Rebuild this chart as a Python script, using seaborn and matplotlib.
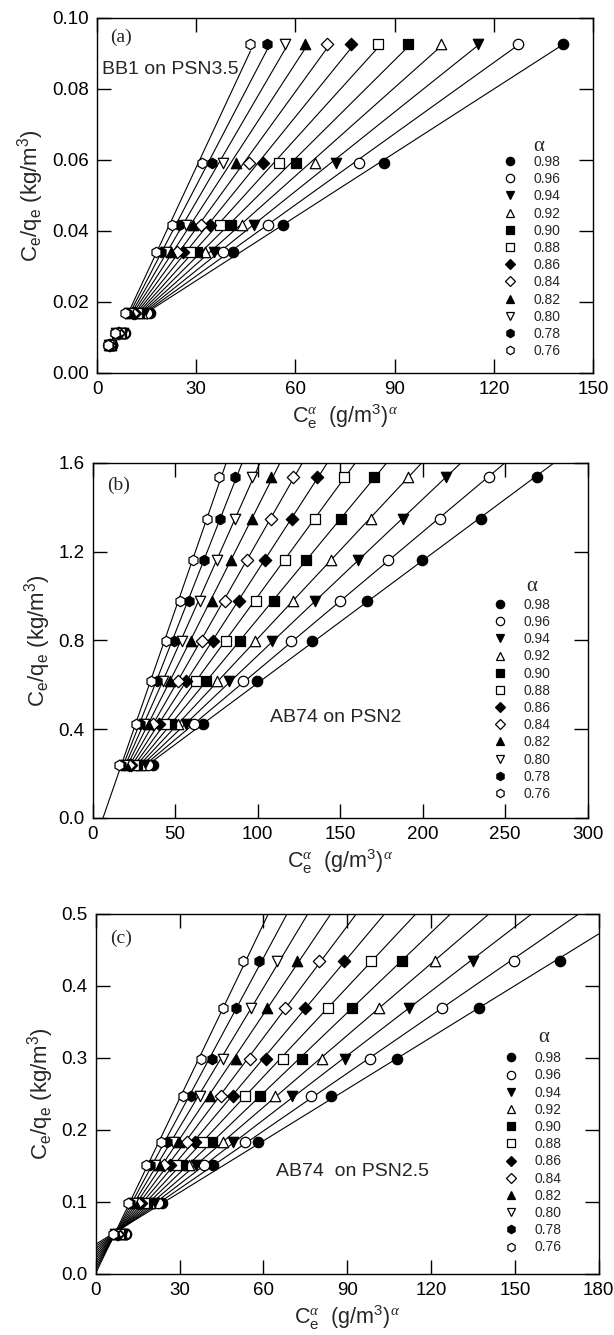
import numpy as np
import pandas as pd
import matplotlib
matplotlib.use("Agg")
import matplotlib.pyplot as plt
import seaborn as sns
from matplotlib.lines import Line2D

# Exponents of the linearised isotherm, one series each
alphas = [0.98, 0.96, 0.94, 0.92, 0.90, 0.88, 0.86, 0.84, 0.82, 0.80, 0.78, 0.76]
alpha_labels = ["0.98", "0.96", "0.94", "0.92", "0.90", "0.88",
                "0.86", "0.84", "0.82", "0.80", "0.78", "0.76"]
symbols = ["o", "o", "v", "^", "s", "s", "D", "D", "^", "v", "h", "h"]
solid = [True, False, True, False, True, False, True, False, True, False, True, False]

# Equilibrium concentration C_e (g/m3) and C_e/q_e (kg/m3)
ce_a = [4.8, 9.0, 17.0, 44.3, 60.9, 95.1, 155.8]
ratio_a = [0.0078, 0.0113, 0.0169, 0.0341, 0.0416, 0.0592, 0.0927]

ce_b = [39.0, 73.0, 109.6, 146.9, 184.7, 222.5, 263.0, 302.0]
ratio_b = [0.240, 0.424, 0.619, 0.798, 0.979, 1.160, 1.349, 1.537]

ce_c = [11.34, 25.2, 45.1, 63.2, 92.2, 118.8, 151.6, 184.5]
ratio_c = [0.0554, 0.0983, 0.1505, 0.1828, 0.2475, 0.2982, 0.3693, 0.4344]

xticks_a = [0, 30, 60, 90, 120, 150]
yticks_a = [0.00, 0.02, 0.04, 0.06, 0.08, 0.10]
xticks_b = [0, 50, 100, 150, 200, 250, 300]
yticks_b = [0.0, 0.4, 0.8, 1.2, 1.6]
xticks_c = [0, 30, 60, 90, 120, 150, 180]
yticks_c = [0.0, 0.1, 0.2, 0.3, 0.4, 0.5]


def long_table(ce, ratio):
    rows = []
    for a in alphas:
        for c, r in zip(ce, ratio):
            rows.append({"alpha": a, "x": c ** a, "y": r})
    return pd.DataFrame(rows)


sns.set_theme(style="ticks")
plt.rcParams["font.family"] = ["Liberation Sans", "DejaVu Sans"]
plt.rcParams["mathtext.fontset"] = "custom"
plt.rcParams["mathtext.rm"] = "Liberation Sans"
plt.rcParams["mathtext.it"] = "Liberation Serif:italic"
plt.rcParams["mathtext.default"] = "rm"

fig = plt.figure(figsize=(6.14, 13.35), dpi=100)
fig.patch.set_facecolor("white")

ax_a = fig.add_axes([0.158, 0.7206, 0.808, 0.266])
ax_b = fig.add_axes([0.151, 0.3873, 0.806, 0.266])
ax_c = fig.add_axes([0.156, 0.0457, 0.819, 0.270])

# line extent per panel: "data" = fitted points only, "up" = from the lowest
# point to the right edge, "full" = whole x axis
panels = [
    dict(ax=ax_a, df=long_table(ce_a, ratio_a), xt=xticks_a, yt=yticks_a, yfmt="{:.2f}",
         fit_from=0.0169, span="data", tag="(a)", tag_xy=(0.027, 0.944),
         note="BB1 on PSN3.5", note_xy=(0.010, 0.854),
         leg_xy=(0.818, 0.614), sym_xy=(0.890, 0.637)),
    dict(ax=ax_b, df=long_table(ce_b, ratio_b), xt=xticks_b, yt=yticks_b, yfmt="{:.1f}",
         fit_from=0.0, span="up", tag="(b)", tag_xy=(0.030, 0.938),
         note="AB74 on PSN2", note_xy=(0.358, 0.282),
         leg_xy=(0.808, 0.620), sym_xy=(0.888, 0.651)),
    dict(ax=ax_c, df=long_table(ce_c, ratio_c), xt=xticks_c, yt=yticks_c, yfmt="{:.1f}",
         fit_from=0.0, span="full", tag="(c)", tag_xy=(0.028, 0.931),
         note="AB74  on PSN2.5", note_xy=(0.358, 0.283),
         leg_xy=(0.812, 0.618), sym_xy=(0.891, 0.656)),
]

for p in panels:
    ax = p["ax"]
    df = p["df"]
    xmin, xmax = p["xt"][0], p["xt"][-1]

    for a, m, f in zip(alphas, symbols, solid):
        sub = df[df["alpha"] == a]
        fit = sub[sub["y"] >= p["fit_from"]]
        slope, icpt = np.polyfit(fit["x"], fit["y"], 1)
        if p["span"] == "data":
            lo, hi = fit["x"].min(), fit["x"].max()
        elif p["span"] == "up":
            # the steepest line is carried down to the x axis
            lo = xmin if a == alphas[-1] else fit["x"].min()
            hi = xmax
        else:
            lo, hi = xmin, xmax
        xs = np.array([lo, hi])
        line = pd.DataFrame({"x": xs, "y": icpt + slope * xs})
        sns.lineplot(data=line, x="x", y="y", color="black", lw=0.8,
                     estimator=None, sort=False, ax=ax, zorder=2)
        size = 40 if m == "D" else 56
        sns.scatterplot(data=sub, x="x", y="y", marker=m, s=size,
                        facecolor="black" if f else "white",
                        edgecolor="black", linewidth=0.9, ax=ax, zorder=3,
                        legend=False)

    ax.set_xlim(xmin, xmax)
    ax.set_ylim(p["yt"][0], p["yt"][-1])
    ax.set_xticks(p["xt"])
    ax.set_yticks(p["yt"])
    ax.set_yticklabels([p["yfmt"].format(v) for v in p["yt"]])
    ax.tick_params(direction="in", length=10, width=1, top=True, right=True,
                   labelsize=13.5, pad=6, colors="black")
    for s in ax.spines.values():
        s.set_visible(True)
        s.set_color("black")
        s.set_linewidth(1.0)

    ax.set_xlabel(r"C$_e^{\mathit{\alpha}}$  (g/m$^3$)$^{\mathit{\alpha}}$", fontsize=15.5, labelpad=3)
    ax.set_ylabel(r"C$_e$/q$_e$ (kg/m$^3$)", fontsize=16, labelpad=4)

    ax.text(*p["tag_xy"], p["tag"], transform=ax.transAxes, ha="left", va="center",
            fontsize=14, family="Liberation Serif")
    ax.text(*p["note_xy"], p["note"], transform=ax.transAxes, ha="left", va="center",
            fontsize=14)
    ax.text(*p["sym_xy"], "α", transform=ax.transAxes, ha="center", va="center",
            fontsize=15, family="Liberation Serif")

    handles = [Line2D([], [], ls="none", marker=m, markersize=(5 if m == "D" else 6),
                      markerfacecolor="black" if f else "white",
                      markeredgecolor="black", markeredgewidth=0.9)
               for m, f in zip(symbols, solid)]
    ax.legend(handles, alpha_labels, loc="upper left",
              bbox_to_anchor=p["leg_xy"], frameon=False, fontsize=10,
              handlelength=1.0, handletextpad=1.2, labelspacing=0.23,
              borderpad=0, borderaxespad=0)

fig.savefig("out.png", dpi=100, facecolor="white")
